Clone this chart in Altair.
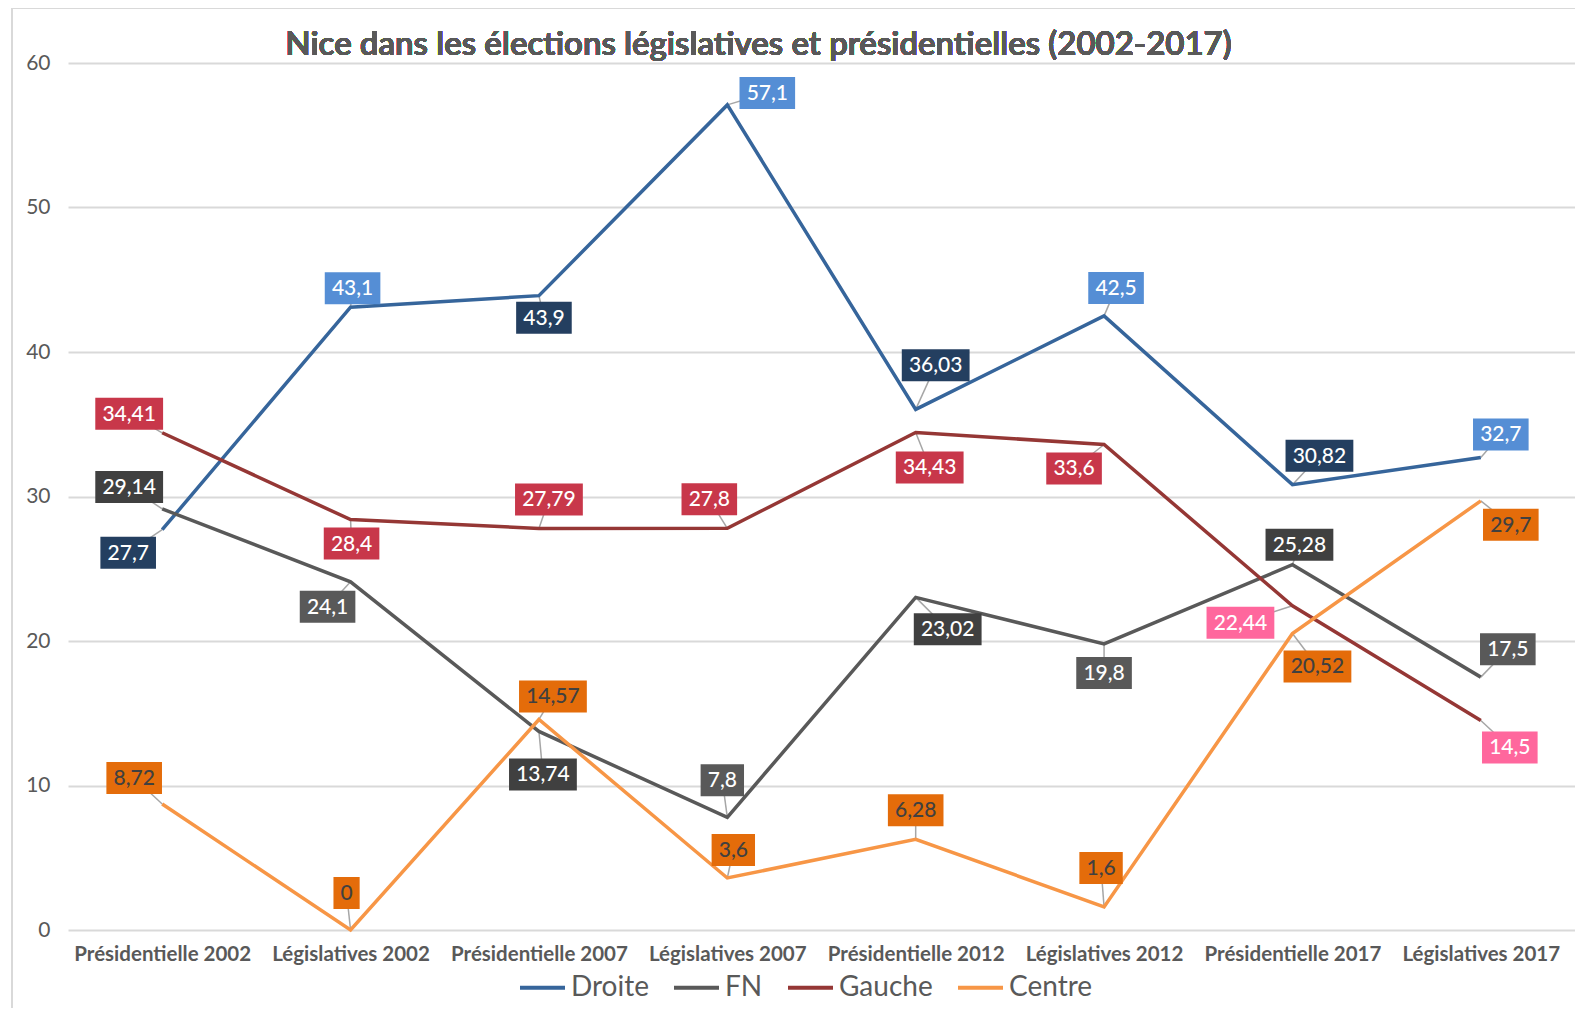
import json
import altair as alt
import pandas as pd

categories = [
    "Présidentielle 2002", "Législatives 2002", "Présidentielle 2007", "Législatives 2007",
    "Présidentielle 2012", "Législatives 2012", "Présidentielle 2017", "Législatives 2017",
]
series = ["Droite", "FN", "Gauche", "Centre"]
droite = [27.7, 43.1, 43.9, 57.1, 36.03, 42.5, 30.82, 32.7]
fn = [29.14, 24.1, 13.74, 7.8, 23.02, 19.8, 25.28, 17.5]
gauche = [34.41, 28.4, 27.79, 27.8, 34.43, 33.6, 22.44, 14.5]
centre = [8.72, 0, 14.57, 3.6, 6.28, 1.6, 20.52, 29.7]
values = {"Droite": droite, "FN": fn, "Gauche": gauche, "Centre": centre}
title_text = "Nice dans les élections législatives et présidentielles (2002-2017)"

line_colors = ["#36659B", "#595959", "#953735", "#F79646"]

# label box styling
label_fill = {
    "Droite": ["#243F60", "#558ED5"] * 4,
    "FN": ["#404040", "#595959"] * 4,
    "Gauche": ["#C8374A"] * 6 + ["#FF679D"] * 2,
    "Centre": ["#E46C0A"] * 8,
}
label_ink = {"Droite": "#FFFFFF", "FN": "#FFFFFF", "Gauche": "#FFFFFF", "Centre": "#404040"}

# label placement (pixel offsets of the label box from its point)
label_dx = {
    "Droite": [-34, 2, 5, 40, 20, 12, 27, 20],
    "FN": [-33, -23, 4, -5, 32, 0, 7, 27],
    "Gauche": [-33, 1, 10, -18, 14, -30, -52, 29],
    "Centre": [-28, -4, 14, 6, 0, -3, 25, 30],
}
label_dy = {
    "Droite": [23, -19, 22, -12, -44, -28, -29, -23],
    "FN": [-22, 25, 43, -37, 32, 29, -20, -28],
    "Gauche": [-19, 24, -29, -29, 35, 24, 17, 27],
    "Centre": [-26, -37, -23, -28, -29, -39, 33, 24],
}

FONT = "Lato"
LABEL_SIZE = 21
W, H = 1507, 867
Y_MAX = 60
PX_PER_X = W / len(categories)   # pixels per category step
PX_PER_Y = H / Y_MAX             # pixels per unit


def fmt(v):
    return f"{v:g}".replace(".", ",")


def box_path(text):
    nd = sum(c.isdigit() for c in text)
    nc = text.count(",")
    w = LABEL_SIZE * (0.58 * nd + 0.24 * nc) + 14
    h = 32
    return f"M{-w/2:.1f},{-h/2}H{w/2:.1f}V{h/2}H{-w/2:.1f}Z"


rows, lab_rows = [], []
for s in series:
    for i, c in enumerate(categories):
        v = values[s][i]
        rows.append({"idx": i, "cat": c, "series": s, "value": v})
        t = fmt(v)
        lab_rows.append({
            "idx": i, "value": v, "text": t,
            "bx": i + label_dx[s][i] / PX_PER_X,
            "by": v - label_dy[s][i] / PX_PER_Y,
            "bg": label_fill[s][i], "ink": label_ink[s], "path": box_path(t),
        })

df = pd.DataFrame(rows)
lab = pd.DataFrame(lab_rows)

x_scale = alt.Scale(domain=[-0.5, len(categories) - 0.5], nice=False, zero=False)
y_scale = alt.Scale(domain=[0, Y_MAX], nice=False)
label_expr = f"{json.dumps(categories, ensure_ascii=False)}[datum.value]"

x_enc = alt.X("idx:Q", scale=x_scale,
              axis=alt.Axis(title=None, values=list(range(len(categories))), labelExpr=label_expr,
                            labelAngle=0, labelFont=FONT, labelFontSize=20.5,
                            labelFontWeight="bold", labelColor="#595959", labelPadding=14,
                            labelFlush=False, labelOverlap=False,
                            ticks=False, domain=False, grid=False))
y_enc = alt.Y("value:Q", scale=y_scale,
              axis=alt.Axis(title=None, values=[0, 10, 20, 30, 40, 50, 60], labelFont=FONT,
                            labelFontSize=21, labelColor="#595959", labelPadding=18,
                            ticks=False, domain=False, grid=True, gridColor="#D9D9D9",
                            gridWidth=2))

leaders = alt.Chart(lab).mark_rule(color="#A6A6A6", strokeWidth=1.5).encode(
    x=alt.X("idx:Q", scale=x_scale), y=alt.Y("value:Q", scale=y_scale),
    x2="bx:Q", y2="by:Q",
)

lines = alt.Chart(df).mark_line(strokeWidth=3.5).encode(
    x=x_enc, y=y_enc,
    color=alt.Color("series:N", sort=series,
                    scale=alt.Scale(domain=series, range=line_colors),
                    legend=alt.Legend(title=None, orient="none", direction="horizontal",
                                      legendX=450, legendY=900, symbolType="stroke",
                                      symbolSize=2025, symbolStrokeWidth=4,
                                      labelFont=FONT, labelFontSize=28,
                                      labelColor="#595959", labelOffset=4,
                                      columnPadding=17, labelLimit=300)),
)

boxes = alt.Chart(lab).mark_point(filled=True, size=4, opacity=1, strokeWidth=0).encode(
    x=alt.X("bx:Q", scale=x_scale), y=alt.Y("by:Q", scale=y_scale),
    shape=alt.Shape("path:N", scale=None),
    fill=alt.Fill("bg:N", scale=None),
)

texts = alt.Chart(lab).mark_text(font=FONT, fontSize=LABEL_SIZE, fontWeight=500,
                                  baseline="middle", align="center", dy=1).encode(
    x=alt.X("bx:Q", scale=x_scale), y=alt.Y("by:Q", scale=y_scale),
    text="text:N",
    fill=alt.Fill("ink:N", scale=None),
)

title = alt.Chart(df).mark_text(font=FONT, fontSize=33, fontWeight=600, color="#595959",
                                 baseline="middle", align="center").encode(
    x=alt.value(W / 2 - 63), y=alt.value(-18), text=alt.value(title_text)
)

border_top = alt.Chart(df).mark_rule(color="#D9D9D9", strokeWidth=2).encode(
    x=alt.value(-56), x2=alt.value(W + 10), y=alt.value(-55)
)
border_left = alt.Chart(df).mark_rule(color="#D9D9D9", strokeWidth=2).encode(
    x=alt.value(-56), y=alt.value(-55), y2=alt.value(H + 80)
)

chart = alt.layer(border_top, border_left, leaders, lines, boxes, texts, title).properties(
    width=W, height=H,
    autosize=alt.AutoSizeParams(type="none"),
    padding={"left": 60, "top": 55, "right": 0, "bottom": 78},
).configure_view(stroke=None)

chart.save("out.html", embed_options={"renderer": "svg", "actions": False})
